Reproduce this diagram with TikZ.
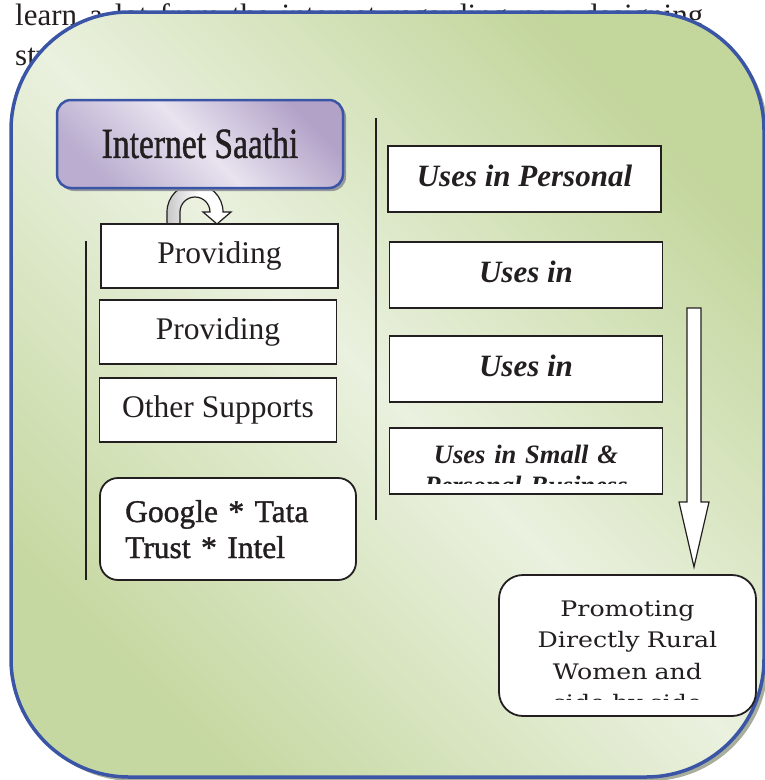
\documentclass[tikz,border=0pt]{standalone}
\usepackage{fontspec}
\setmainfont{Liberation Serif}
\newfontfamily\titlefont[FakeStretch=0.78,FakeBold=1]{Liberation Serif}
\newfontfamily\slabfont[FakeStretch=1.18]{DejaVu Serif}
\newfontfamily\heavyfont[FakeBold=1.3]{Liberation Serif}
\usetikzlibrary{calc,shadows}

\definecolor{ink}{HTML}{231F20}
\definecolor{frameblue}{HTML}{3A55A5}
\definecolor{frameshadow}{HTML}{A9AE9C}
\definecolor{greendark}{HTML}{C3D69C}
\definecolor{greendarkb}{HTML}{C6D8A1}
\definecolor{greenlight}{HTML}{EAF1DF}
\definecolor{lilacdark}{HTML}{B2A2C8}
\definecolor{lilacdarkb}{HTML}{BAADCF}
\definecolor{lilaclight}{HTML}{E8E3EF}
\definecolor{boxshadow}{HTML}{8E9096}

\tikzset{
  bodytext/.style={inner sep=0pt, text=ink, font=\fontsize{31}{31}\selectfont},
  plainbox/.style={draw=ink, line width=1.8pt, fill=white, inner sep=0pt, text=ink},
  leftbox/.style={plainbox, minimum width=237pt, minimum height=64pt,
    text depth=7pt, font=\fontsize{31.5}{31.5}\selectfont},
  rightbox/.style={plainbox, minimum width=273pt, minimum height=66pt,
    text depth=7pt, font=\bfseries\itshape\fontsize{31}{31}\selectfont},
  roundbox/.style={plainbox, rounded corners=#1},
  guide/.style={draw=ink, line width=1.5pt},
  blockarrow/.style={draw=ink, line width=1.2pt, line join=miter},
  titlebox/.style={draw=frameblue, line width=2.5pt, rounded corners=14pt,
    top color=lilacdark, bottom color=lilacdarkb, middle color=lilaclight,
    shading angle=-45, minimum width=286pt, minimum height=88pt,
    text depth=2pt, text=ink, font=\titlefont\fontsize{43}{43}\selectfont,
    drop shadow={shadow xshift=3pt, shadow yshift=-3pt, fill=boxshadow, opacity=0.9}}
}

\begin{document}
\begin{tikzpicture}[x=1pt, y=-1pt]
\useasboundingbox (0,0) rectangle (765,780);
\clip (0,0) rectangle (765,780);

% running text of the page behind the panel
\node[bodytext, anchor=base west] (line1) at (15,25)
  {\makebox[688pt][s]{learn a lot from the internet regarding new designing}};
\node[bodytext, anchor=base west] (line2) at (15,65) {sty};
\node[bodytext, anchor=base west] (line3) at (15,106) {t};

% green panel with its shadow
\fill[frameshadow, rounded corners=118pt] (15,16) rectangle (768,781);
\shade[draw=frameblue, line width=3.5pt, rounded corners=118pt,
  top color=greendark, bottom color=greendarkb, middle color=greenlight,
  shading angle=-45] (11,12) rectangle (764,777);

% column guides
\coordinate (lefttop) at (86,241);
\coordinate (leftbot) at (86,580);
\coordinate (midtop) at (376,118);
\coordinate (midbot) at (376,520);
\draw[guide] (lefttop) -- (leftbot);
\draw[guide] (midtop) -- (midbot);

% U-turn arrow below the title
\coordinate (turn) at (195,212);
\begin{scope}[shift={(turn)}]
\draw[blockarrow, left color=black!22, right color=white, middle color=white]
  (-28,12) -- (-28,0)
  .. controls (-28,-15.46) and (-15.46,-28) .. (0,-28)
  .. controls (15.46,-28) and (28,-15.46) .. (28,0)
  -- (36,0) -- (22,12) -- (8,0) -- (15,0)
  .. controls (15,-8.28) and (8.28,-15) .. (0,-15)
  .. controls (-8.28,-15) and (-15,-8.28) .. (-15,0)
  -- (-15,12) -- cycle;
\end{scope}

% title
\node[titlebox] (saathi) at (200,144) {Internet Saathi};

% left column
\node[leftbox] (prov1) at (219.5,256) {Providing};
\node[leftbox] (prov2) at (218,332) {Providing};
\node[leftbox] (other) at (218,410) {Other Supports};
\node[roundbox=18pt, minimum width=256pt, minimum height=102pt] (google) at (228,529) {};
\node[inner sep=0pt, text=ink, anchor=base west, text width=215pt, align=left,
  font=\heavyfont\fontsize{31.5}{36}\selectfont] (googletext) at (125,522)
  {Google * Tata\\Trust * Intel};

% right column
\node[rightbox] (usesA) at (524.5,179) {Uses in Personal};
\node[rightbox] (usesB) at (526,275) {Uses in};
\node[rightbox] (usesC) at (526,369) {Uses in};
\node[rightbox] (usesD) at (526,461) {};
\begin{scope}
\clip ($(usesD.north west)+(2,2)$) rectangle ($(usesD.south east)+(-2,-11)$);
\node[inner sep=0pt, text=ink, anchor=base, text width=265pt, align=center,
  font=\bfseries\itshape\fontsize{26.5}{31}\selectfont] (usesDtext) at (526,463)
  {Uses in Small \&\\Personal Business};
\end{scope}

% block arrow down to the result
\coordinate (flowtop) at (694,308);
\coordinate (flowtip) at (694,567);
\draw[blockarrow, fill=white]
  ($(flowtop)+(-7,0)$) -- ($(flowtop)+(7,0)$) -- ($(flowtip)+(7,-65)$)
  -- ($(flowtip)+(15,-65)$) -- (flowtip) -- ($(flowtip)+(-15,-65)$)
  -- ($(flowtip)+(-7,-65)$) -- cycle;

% result box
\node[roundbox=24pt, minimum width=257pt, minimum height=141pt] (promo) at (627.5,645.5) {};
\begin{scope}
\clip ($(promo.north west)+(2,2)$) rectangle (754,699);
\node[inner sep=0pt, text=ink, anchor=base, text width=250pt, align=center,
  font=\slabfont\fontsize{21.4}{31.5}\selectfont] (promotext) at (627.5,616)
  {Promoting\\Directly Rural\\Women and\\side by side};
\end{scope}
\end{tikzpicture}
\end{document}
